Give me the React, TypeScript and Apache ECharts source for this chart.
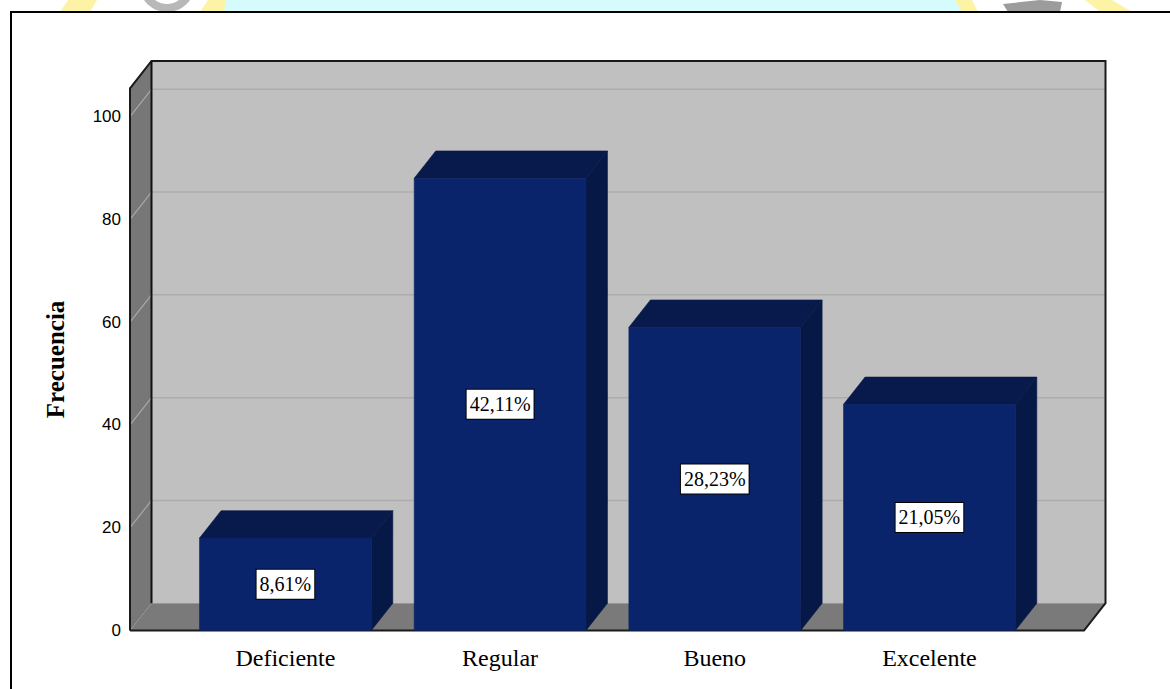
import React, { useEffect, useRef } from 'react';
import * as echarts from 'echarts';

// ---- data ----
const categories = ['Deficiente', 'Regular', 'Bueno', 'Excelente'];
const frequencies = [18, 88, 59, 44];
const percentLabels = ['8,61%', '42,11%', '28,23%', '21,05%'];
const yAxisTitle = 'Frecuencia';
const gridValues = [20, 40, 60, 80, 100];

// ---- layout / style constants ----
const X_MIN = -0.724;
const X_MAX = 3.72;
const Y_MAX = 105.5;
const DX = 21.5;
const DY = -27.3;
const BAR_HALF = 0.4;

const FRONT = '#0a246c';
const TOP = '#081a4b';
const SIDE = '#061846';
const SERIF = '"Liberation Serif", "Times New Roman", serif';

export default function App() {
  const ref = useRef<HTMLDivElement>(null);

  useEffect(() => {
    const chart = echarts.init(ref.current as HTMLDivElement, null, { renderer: 'svg' });

    const wallsRender = (params: any, api: any) => {
      const cs = params.coordSys;
      const left = cs.x;
      const top = cs.y;
      const right = cs.x + cs.width;
      const bottom = cs.y + cs.height;
      const children: any[] = [];
      // back wall
      children.push({
        type: 'rect',
        shape: { x: left + DX, y: top + DY, width: right - left, height: bottom - top },
        style: { fill: '#c0c0c0' },
      });
      // left wall
      children.push({
        type: 'polygon',
        shape: { points: [[left, top], [left + DX, top + DY], [left + DX, bottom + DY], [left, bottom]] },
        style: { fill: '#777777' },
      });
      // floor
      children.push({
        type: 'polygon',
        shape: { points: [[left, bottom], [left + DX, bottom + DY], [right + DX, bottom + DY], [right, bottom]] },
        style: { fill: '#7a7a7a' },
      });
      // gridlines
      gridValues.forEach((v) => {
        const y = api.coord([X_MIN, v])[1];
        children.push({
          type: 'line',
          shape: { x1: left + DX, y1: y + DY, x2: right + DX, y2: y + DY },
          style: { stroke: '#acacac', lineWidth: 1.5 },
        });
        children.push({
          type: 'line',
          shape: { x1: left, y1: y, x2: left + DX, y2: y + DY },
          style: { stroke: '#a8a8a8', lineWidth: 1.2 },
        });
      });
      // outlines
      children.push({
        type: 'polyline',
        shape: {
          points: [
            [left, bottom], [left, top], [left + DX, top + DY], [right + DX, top + DY],
            [right + DX, bottom + DY], [right, bottom], [left, bottom],
          ],
        },
        style: { stroke: '#1a1a1a', lineWidth: 2, fill: 'none' },
      });
      children.push({
        type: 'line',
        shape: { x1: left + DX, y1: top + DY, x2: left + DX, y2: bottom + DY },
        style: { stroke: '#111111', lineWidth: 2 },
      });
      return { type: 'group', children };
    };

    const barsRender = (params: any, api: any) => {
      const idx = params.dataIndex;
      const i = api.value(0);
      const v = api.value(1);
      const tl = api.coord([i - BAR_HALF, v]);
      const br = api.coord([i + BAR_HALF, 0]);
      const xl = tl[0];
      const xr = br[0];
      const yt = tl[1];
      const yb = br[1];
      return {
        type: 'group',
        children: [
          {
            type: 'polygon',
            shape: { points: [[xl, yt], [xr, yt], [xr + DX, yt + DY], [xl + DX, yt + DY]] },
            style: { fill: TOP, stroke: '#0a1a44', lineWidth: 0.6 },
          },
          {
            type: 'polygon',
            shape: { points: [[xr, yt], [xr + DX, yt + DY], [xr + DX, yb + DY], [xr, yb]] },
            style: { fill: SIDE, stroke: '#0a1a44', lineWidth: 0.6 },
          },
          {
            type: 'rect',
            shape: { x: xl, y: yt, width: xr - xl, height: yb - yt },
            style: { fill: FRONT, stroke: '#0c2260', lineWidth: 0.6 },
          },
          {
            type: 'text',
            x: (xl + xr) / 2,
            y: (yt + yb) / 2,
            style: {
              text: percentLabels[idx],
              font: '20px ' + SERIF,
              fill: '#000000',
              align: 'center',
              verticalAlign: 'middle',
              lineHeight: 20,
              backgroundColor: '#ffffff',
              borderColor: '#000000',
              borderWidth: 1,
              padding: [5, 3, 4, 3],
            },
          },
          {
            type: 'text',
            x: (xl + xr) / 2,
            y: yb + 27,
            style: {
              text: categories[idx],
              font: '24px ' + SERIF,
              fill: '#000000',
              align: 'center',
              verticalAlign: 'middle',
            },
          },
        ],
      };
    };

    chart.setOption({
      animation: false,
      backgroundColor: '#ffffff',
      grid: { left: 130, top: 88.3, width: 954, height: 542.2, containLabel: false },
      xAxis: { type: 'value', min: X_MIN, max: X_MAX, show: false },
      yAxis: {
        type: 'value',
        min: 0,
        max: Y_MAX,
        interval: 20,
        name: yAxisTitle,
        nameLocation: 'middle',
        nameRotate: 90,
        nameGap: 62,
        nameTextStyle: { fontFamily: SERIF, fontWeight: 'bold', fontSize: 25, color: '#000000' },
        axisLine: { show: false },
        axisTick: { show: false },
        splitLine: { show: false },
        axisLabel: {
          margin: 9,
          color: '#000000',
          fontSize: 17,
          fontFamily: '"Liberation Sans", Arial, sans-serif',
          formatter: (val: number) => (val % 20 === 0 ? String(val) : ''),
        },
      },
      graphic: [
        // watermark strip above the frame
        { type: 'rect', z: -10, shape: { x: 224, y: 0, width: 738, height: 12 }, style: { fill: '#d6fbfd' } },
        { type: 'polygon', z: -10, shape: { points: [[68, 0], [97, 0], [90, 12], [60, 12]] }, style: { fill: '#fcf3a6' } },
        { type: 'polygon', z: -10, shape: { points: [[208, 0], [226, 0], [224, 12], [200, 12]] }, style: { fill: '#fcf3a6' } },
        { type: 'polygon', z: -10, shape: { points: [[955, 0], [972, 0], [978, 12], [962, 12]] }, style: { fill: '#fcf3a6' } },
        { type: 'polygon', z: -10, shape: { points: [[1085, 0], [1112, 0], [1132, 12], [1100, 12]] }, style: { fill: '#fcf3a6' } },
        { type: 'arc', z: -10, shape: { cx: 167, cy: -16, r: 24, startAngle: Math.PI * 0.02, endAngle: Math.PI * 0.98 }, style: { stroke: '#b8b8b8', lineWidth: 8, fill: 'none' } },
        { type: 'polygon', z: -10, shape: { points: [[1003, 4], [1040, 0], [1062, 2], [1060, 12], [1008, 12]] }, style: { fill: '#9c9c9c' } },
        // frame
        { type: 'rect', z: -5, shape: { x: 11, y: 12, width: 1170, height: 700 }, style: { fill: '#ffffff', stroke: '#000000', lineWidth: 2 } },
      ],
      series: [
        {
          type: 'custom',
          renderItem: wallsRender,
          data: [[0, 0]],
          encode: { x: 0, y: 1 },
          clip: false,
          z: 1,
          silent: true,
        },
        {
          type: 'custom',
          renderItem: barsRender,
          data: frequencies.map((v, i) => [i, v]),
          encode: { x: 0, y: 1 },
          clip: false,
          z: 3,
        },
      ],
    });

    return () => chart.dispose();
  }, []);

  return (
    <div
      ref={ref}
      style={{ position: 'fixed', left: 0, top: 0, width: 1170, height: 689, background: '#ffffff' }}
    />
  );
}
